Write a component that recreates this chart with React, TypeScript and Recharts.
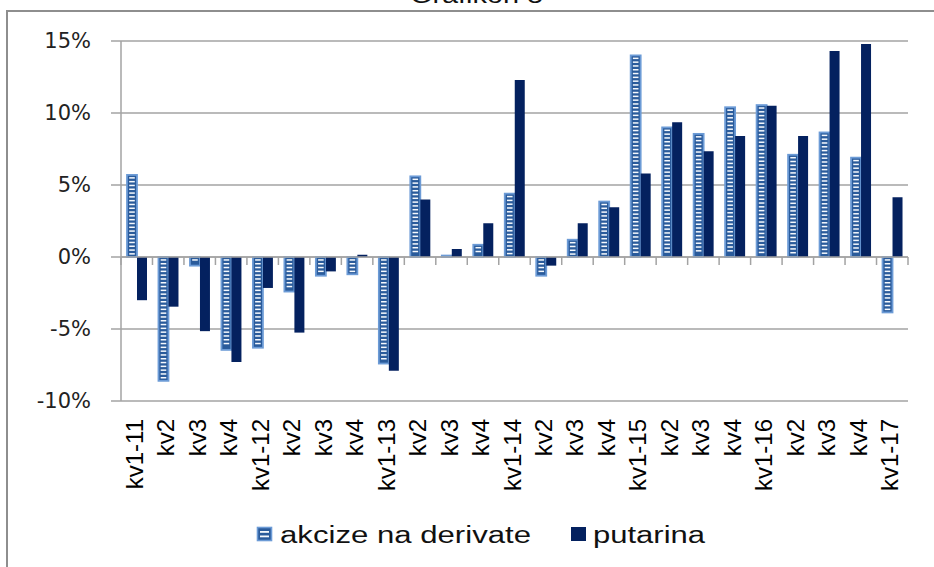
import React from "react";
import { BarChart, Bar, XAxis, YAxis, CartesianGrid, ReferenceLine, Legend } from "recharts";

const categories = ["kv1-11","kv2","kv3","kv4","kv1-12","kv2","kv3","kv4","kv1-13","kv2","kv3","kv4","kv1-14","kv2","kv3","kv4","kv1-15","kv2","kv3","kv4","kv1-16","kv2","kv3","kv4","kv1-17"];
const akcize = [5.7, -8.6, -0.6, -6.45, -6.3, -2.4, -1.3, -1.2, -7.4, 5.6, 0.1, 0.85, 4.4, -1.3, 1.2, 3.85, 14.0, 9.0, 8.55, 10.4, 10.55, 7.1, 8.65, 6.9, -3.85];
const putarina = [-3.0, -3.45, -5.15, -7.3, -2.15, -5.25, -1.0, 0.15, -7.9, 4.0, 0.55, 2.35, 12.3, -0.6, 2.35, 3.45, 5.8, 9.35, 7.35, 8.4, 10.5, 8.4, 14.3, 14.8, 4.15];
const yTicks = [-10, -5, 0, 5, 10, 15];
const seriesNames = ["akcize na derivate", "putarina"];
const title = "Grafikon 8";

const data = categories.map((c, i) => ({ i, label: c, akcize: akcize[i], putarina: putarina[i] }));

const GRID = "#A3A3A3";
const NAVY = "#04215F";
const STRIPE_FILL = "#2A5B9B";
const STRIPE_BORDER = "#6C9BD6";

const StripedBar = (props: any) => {
  const { x, y, width, height } = props;
  if (width == null || height == null || isNaN(y)) return null;
  const top = Math.min(y, y + height);
  const h = Math.abs(height);
  const stripes: any[] = [];
  for (let sy = top + 2.2; sy + 1.5 <= top + h - 1.8; sy += 3.8) {
    stripes.push(<rect key={sy} x={x + 2.2} y={sy} width={Math.max(0, width - 4.4)} height={1.5} fill="#F6F9FD" />);
  }
  return (
    <g>
      <rect x={x} y={top} width={width} height={Math.max(h, 1)} fill={STRIPE_FILL} stroke={STRIPE_BORDER} strokeWidth={1.8} />
      {stripes}
    </g>
  );
};

const ZeroTicks = (props: any) => {
  const vb = props.viewBox;
  if (!vb || vb.x == null) return null;
  const n = categories.length;
  const step = vb.width / n;
  const lines = [];
  for (let k = 0; k <= n; k++) {
    const xx = vb.x + k * step;
    lines.push(<line key={k} x1={xx} x2={xx} y1={vb.y} y2={vb.y + 8} stroke={GRID} strokeWidth={1.5} />);
  }
  return <g>{lines}</g>;
};

const YTick = (props: any) => {
  const { x, y, payload } = props;
  return (
    <text x={x} y={y} textAnchor="end" dominantBaseline="central" fontFamily="DejaVu Sans" fontSize={21} fill="#222">
      {`${payload.value}%`}
    </text>
  );
};

const XTick = (props: any) => {
  const { x, y, payload } = props;
  return (
    <g transform={`translate(${x + 6},${y}) rotate(-90)`}>
      <text x={0} y={0} textAnchor="end" fontFamily="Liberation Sans, Arial" fontSize={24} fill="#000">
        {categories[payload.value]}
      </text>
    </g>
  );
};

const LegendContent = () => (
  <svg width={934} height={40}>
    <rect x={257.5} y={14.5} width={14} height={13} fill={STRIPE_FILL} stroke={STRIPE_BORDER} strokeWidth={1.6} />
    <rect x={260} y={18} width={9} height={1.8} fill="#F6F9FD" />
    <rect x={260} y={22.5} width={9} height={1.8} fill="#F6F9FD" />
    <text x={280} y={30} fontFamily="Liberation Sans, Arial" fontSize={23} fill="#111" textLength={251} lengthAdjust="spacingAndGlyphs">{seriesNames[0]}</text>
    <rect x={571} y={14} width={15} height={14} fill={NAVY} />
    <text x={593} y={30} fontFamily="Liberation Sans, Arial" fontSize={23} fill="#111" textLength={112} lengthAdjust="spacingAndGlyphs">{seriesNames[1]}</text>
  </svg>
);

export default function App() {
  return (
    <div style={{ position: "absolute", left: 0, top: 0, width: 934, height: 567, overflow: "hidden", background: "#fff" }}>
      <svg width={934} height={567} style={{ position: "absolute", left: 0, top: 0 }}>
        <text x={410} y={3} fontFamily="Liberation Sans, Arial" fontSize={23} fill="#111" textLength={133} lengthAdjust="spacingAndGlyphs">{title}</text>
        <line x1={6} x2={934} y1={11} y2={11} stroke="#8E8E8E" strokeWidth={2} />
        <line x1={7} x2={7} y1={10} y2={567} stroke="#8E8E8E" strokeWidth={2} />
      </svg>
      <div style={{ position: "absolute", left: 0, top: 0 }}>
        <BarChart width={934} height={567} data={data} margin={{ top: 41, right: 26, left: 0, bottom: 66 }} barGap={0} barSize={10}>
          <CartesianGrid vertical={false} stroke={GRID} strokeWidth={1.5} />
          <XAxis dataKey="i" type="category" height={100} axisLine={false} tickLine={false} tickSize={0} tickMargin={18} interval={0} tick={<XTick />} />
          <YAxis width={121} domain={[-10, 15]} ticks={yTicks} interval={0} tickSize={10} tickMargin={20} stroke={GRID} axisLine={{ stroke: GRID, strokeWidth: 1.5 }} tickLine={{ stroke: GRID, strokeWidth: 1.5 }} tick={<YTick />} allowDataOverflow />
          <Bar dataKey="akcize" name={seriesNames[0]} shape={<StripedBar />} isAnimationActive={false} />
          <Bar dataKey="putarina" name={seriesNames[1]} fill={NAVY} isAnimationActive={false} />
          <ReferenceLine y={0} stroke={GRID} strokeWidth={1.5} label={<ZeroTicks />} />
          <Legend layout="horizontal" align="center" verticalAlign="middle" wrapperStyle={{ top: 513, left: 0, width: 934, height: 40 }} content={<LegendContent />} />
        </BarChart>
      </div>
    </div>
  );
}
